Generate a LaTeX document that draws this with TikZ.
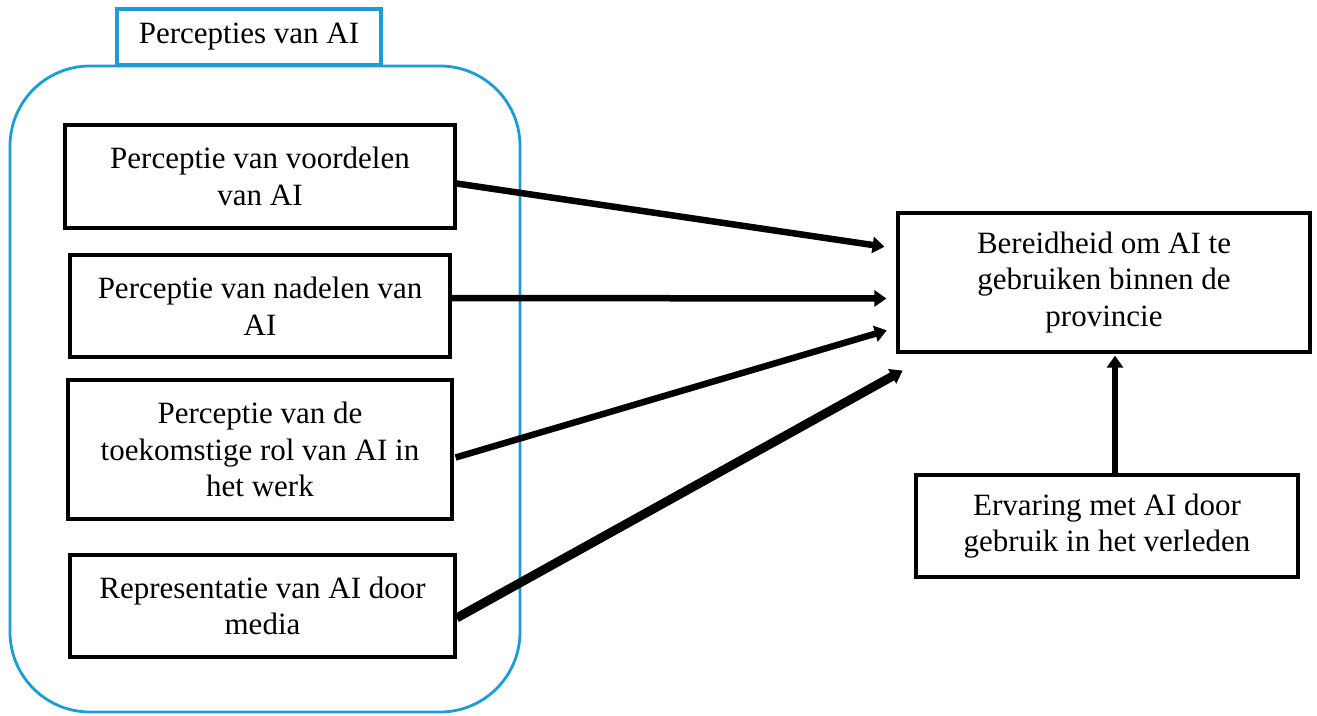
\documentclass[tikz,border=0pt]{standalone}
\usepackage{fontspec}
\setmainfont{Liberation Serif}
\usetikzlibrary{arrows.meta,calc}
\definecolor{frameblue}{RGB}{28,156,214}
\tikzset{
  factor/.style={draw=black, line width=3.2pt, fill=white, align=center,
    font=\fontsize{31}{36.5}\selectfont, inner sep=0pt},
  effect/.style={line width=6.5pt, -{Triangle[length=12pt,width=16pt]}},
}
\begin{document}
\begin{tikzpicture}[x=1pt,y=-1pt]
  \useasboundingbox (0,0) rectangle (1317,715);
  % group frame around the perception factors
  \draw[frameblue, line width=2.8pt, rounded corners=80pt] (10,66) rectangle (520,712);
  \node[draw=frameblue, line width=3.2pt, fill=white, minimum width=264pt, minimum height=56pt,
        inner sep=0pt, font=\fontsize{31}{36}\selectfont] (title) at (249,37) {Percepties van AI};

  \node[factor, minimum width=390pt, minimum height=103pt] (voordelen) at (260,176.5)
    {Perceptie van voordelen\\van AI};
  \node[factor, minimum width=380pt, minimum height=102pt] (nadelen) at (260,306)
    {Perceptie van nadelen van\\AI};
  \node[factor, minimum width=384pt, minimum height=139pt] (toekomst) at (260,449.5)
    {Perceptie van de\\toekomstige rol van AI in\\het werk};
  \node[factor, minimum width=385pt, minimum height=102pt] (media) at (262.5,606)
    {Representatie van AI door\\media};

  \node[factor, minimum width=412pt, minimum height=139pt] (bereid) at (1104,282.5)
    {Bereidheid om AI te\\gebruiken binnen de\\provincie};
  \node[factor, minimum width=382pt, minimum height=102pt] (ervaring) at (1107,526)
    {Ervaring met AI door\\gebruik in het verleden};

  % effects on willingness
  \draw[effect, shorten >=12pt] ($(voordelen.east)+(0,7)$) -- ($(bereid.west)+(0,-34)$);
  \draw[effect, shorten >=10pt] ($(nadelen.east)+(0,-8)$) -- ($(bereid.west)+(0,16)$);
  \draw[effect, shorten >=10pt] ($(toekomst.east)+(2,8)$) -- ($(bereid.west)+(0,45)$);
  \draw[effect, line width=9pt, shorten >=2pt] ($(media.east)+(0,12)$) -- ($(bereid.south west)+(8,16)$);
  \draw[effect, line width=6pt, shorten >=2pt] (ervaring.north -| 1115,0) -- (bereid.south -| 1115,0);
\end{tikzpicture}
\end{document}
